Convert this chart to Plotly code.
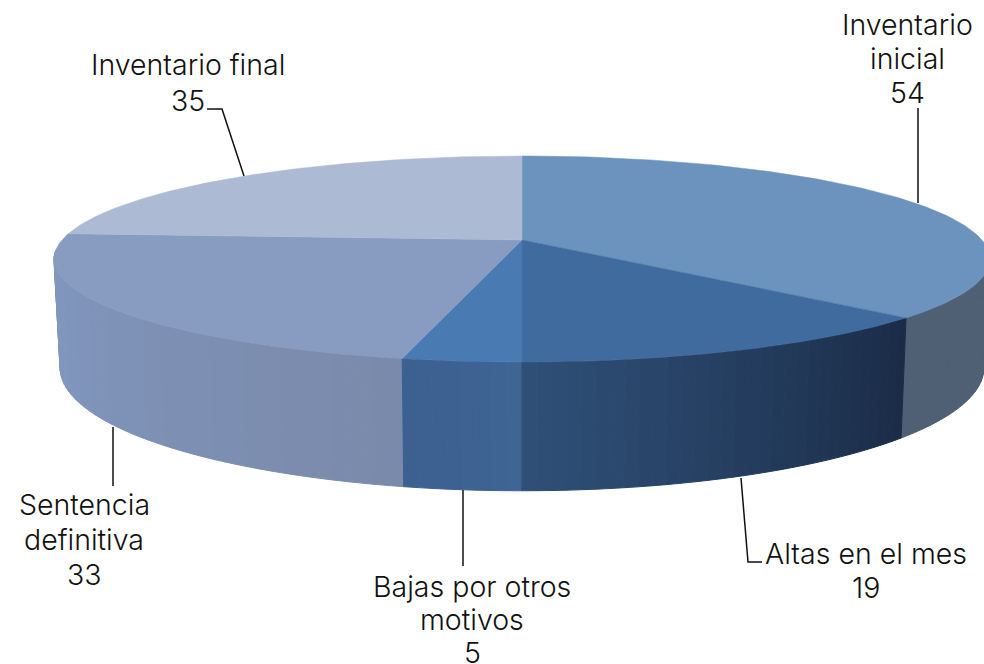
import numpy as np
import plotly.graph_objects as go

label_lines = [['Inventario', 'inicial'], ['Altas en el mes'], ['Bajas por otros', 'motivos'],
               ['Sentencia', 'definitiva'], ['Inventario final']]
values = [54, 19, 5, 33, 35]
top_colors = ['#6b93be', '#406b9f', '#4a7ab2', '#879cc0', '#adbad3']
# side colour at the start and at the end of each slice, going clockwise
side_start = [(79, 96, 117), (26, 43, 70), (63, 101, 149), (122, 138, 171), (134, 160, 200)]
side_end = [(79, 96, 117), (47, 80, 120), (60, 96, 144), (131, 155, 196), (131, 155, 196)]

# tilted disc, projected with perspective onto the page
CX, CY = 522, 240
A, B, K = 460, 99.5, -0.1845
DEPTH = 105
SHRINK = 0.013


def project(deg, t=0.0):
    rad = np.radians(deg)
    x, y = np.sin(rad), -np.cos(rad)
    den = 1 + K * y
    return CX + A * (1 - SHRINK * t) * x / den, CY + B * y / den + DEPTH * t / den


fig = go.Figure()
edges = np.concatenate([[0], np.cumsum(values)]) / sum(values) * 360

# side wall first, so the top faces sit over it; only the part facing us
quads = []
for i in range(len(values)):
    lo, hi = edges[i], edges[i + 1]
    lo_vis, hi_vis = max(lo, 96), min(hi, 264)
    if hi_vis <= lo_vis:
        continue
    steps = max(int((hi_vis - lo_vis) / 1.5), 1)
    cuts = np.linspace(lo_vis, hi_vis, steps + 1)
    for a0, a1 in zip(cuts[:-1], cuts[1:]):
        f = ((a0 + a1) / 2 - lo) / (hi - lo)
        c = [round(s + (e - s) * f) for s, e in zip(side_start[i], side_end[i])]
        quads.append((a0, a1, f'rgb({c[0]},{c[1]},{c[2]})'))

quads.sort(key=lambda q: -abs((q[0] + q[1]) / 2 - 180))
for a0, a1, col in quads:
    xt0, yt0 = project(a0)
    xt1, yt1 = project(a1)
    xb1, yb1 = project(a1, 1)
    xb0, yb0 = project(a0, 1)
    fig.add_trace(go.Scatter(x=[xt0, xt1, xb1, xb0, xt0], y=[yt0, yt1, yb1, yb0, yt0],
                             mode='lines', fill='toself', fillcolor=col,
                             line=dict(color=col, width=1), hoverinfo='skip'))

# top faces
for i in range(len(values)):
    arc = np.linspace(edges[i], edges[i + 1], 120)
    xs, ys = project(arc)
    fig.add_trace(go.Scatter(x=np.concatenate([[CX], xs, [CX]]), y=np.concatenate([[CY], ys, [CY]]),
                             mode='lines', fill='toself', fillcolor=top_colors[i],
                             line=dict(color=top_colors[i], width=0.5), hoverinfo='skip'))

# leader lines
leaders = [([918, 918], [108, 203]),
           ([741, 748, 762], [478, 562, 562]),
           ([463, 463], [490, 566]),
           ([113, 113], [427, 486]),
           ([207, 222, 244], [109, 109, 176])]
for lx, ly in leaders:
    fig.add_trace(go.Scatter(x=lx, y=ly, mode='lines', line=dict(color='#111111', width=1.5),
                             hoverinfo='skip'))

# x centre, y of the first line, gap between lines
label_pos = [(907, 24, 34), (866, 553, 34), (472, 586, 33), (84, 504, 35), (188, 64, 36)]
for lines, val, (lx, ly, gap) in zip(label_lines, values, label_pos):
    for j, line in enumerate(lines + [str(val)]):
        fig.add_annotation(x=lx, y=ly + j * gap, text=line, showarrow=False,
                           xanchor='center', yanchor='middle', align='center',
                           font=dict(family='Inter', size=28.5, weight=300, color='#111111'))

fig.update_layout(width=984, height=664, margin=dict(l=0, r=0, t=0, b=0),
                  paper_bgcolor='white', plot_bgcolor='white', showlegend=False,
                  xaxis=dict(range=[0, 984], visible=False),
                  yaxis=dict(range=[664, 0], visible=False))

# drop the default page margin so the figure fills the window
fig.write_html("out.html", config=dict(displayModeBar=False),
               post_script="document.body.style.margin='0';document.body.style.overflow='hidden';")
